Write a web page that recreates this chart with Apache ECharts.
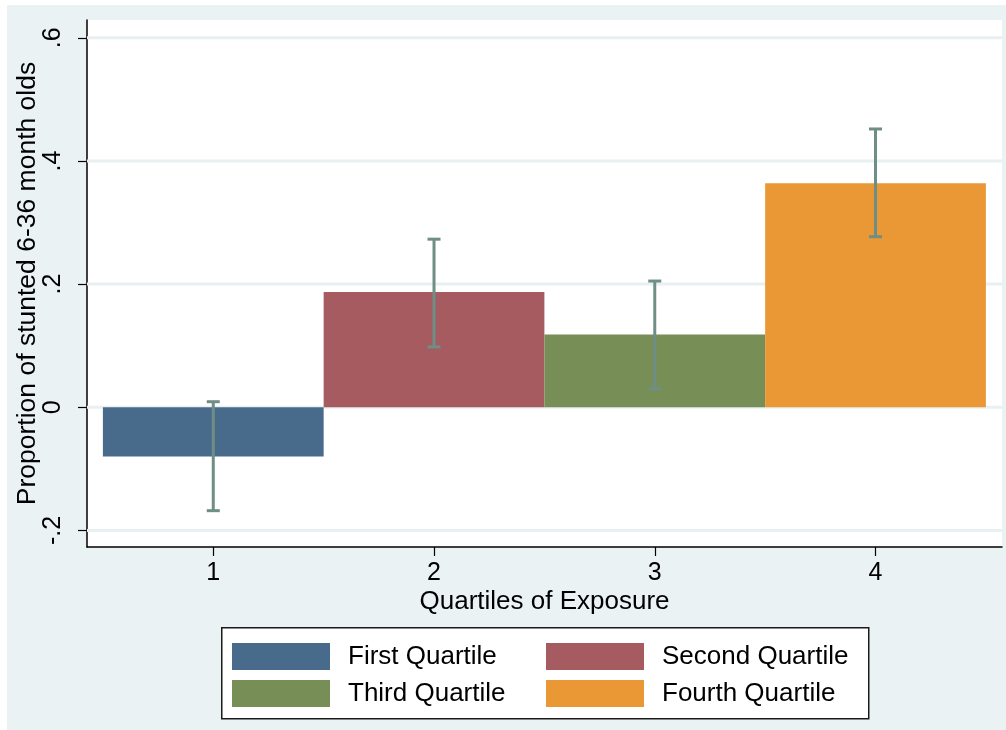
<!DOCTYPE html>
<html>
<head>
<meta charset="utf-8">
<title>Proportion of stunted 6-36 month olds by exposure quartile</title>
<script src="https://cdn.jsdelivr.net/npm/echarts@6/dist/echarts.min.js"></script>
<style>
  html, body { margin: 0; padding: 0; background: #ffffff; }
  #chart { width: 1006px; height: 730px; }
</style>
</head>
<body>
<div id="chart"></div>
<script>
// Quartile groups and their estimated proportions
const quartiles = [1, 2, 3, 4];
const quartileNames = ['First Quartile', 'Second Quartile', 'Third Quartile', 'Fourth Quartile'];
const proportions = [-0.080, 0.187, 0.118, 0.364];
const ciLower = [-0.168, 0.098, 0.030, 0.277];
const ciUpper = [0.009, 0.273, 0.205, 0.452];
const barColors = ['#486B8B', '#A55B5F', '#778F56', '#EA9835'];

// Axis ticks
const yTicks = [-0.2, 0, 0.2, 0.4, 0.6];
const xTicks = [1, 2, 3, 4];

const FONT = 'Liberation Sans, Arial, sans-serif';
const X_MIN = 0.428, X_MAX = 4.573;
const Y_MIN = -0.227, Y_MAX = 0.629;

function fmtY(v) {
  if (Math.abs(v) < 1e-9) return '0';
  const s = String(Math.round(Math.abs(v) * 10) / 10).replace(/^0/, '');
  return (v < 0 ? '-' : '') + s;
}

const chart = echarts.init(document.getElementById('chart'), null, { renderer: 'canvas' });

const barSeries = quartiles.map((q, i) => ({
  name: quartileNames[i],
  type: 'custom',
  z: 3,
  itemStyle: { color: barColors[i] },
  data: [[q, proportions[i]]],
  renderItem: function (params, api) {
    const x = api.value(0), v = api.value(1);
    const a = api.coord([x - 0.5, 0]);
    const b = api.coord([x + 0.5, v]);
    return {
      type: 'rect',
      shape: {
        x: Math.min(a[0], b[0]), y: Math.min(a[1], b[1]),
        width: Math.abs(b[0] - a[0]), height: Math.abs(b[1] - a[1])
      },
      style: { fill: barColors[i] }
    };
  }
}));

const gridLineSeries = {
  name: 'grid',
  type: 'custom',
  z: 1,
  silent: true,
  data: yTicks.map(v => [v]),
  renderItem: function (params, api) {
    const v = api.value(0);
    const a = api.coord([X_MIN, v]);
    const b = api.coord([X_MAX, v]);
    return {
      type: 'line',
      shape: { x1: a[0], y1: a[1], x2: b[0], y2: b[1] },
      style: { stroke: '#E9F0F2', lineWidth: 3 }
    };
  }
};

const errorSeries = {
  name: 'ci',
  type: 'custom',
  z: 5,
  silent: true,
  data: quartiles.map((q, i) => [q, ciLower[i], ciUpper[i]]),
  renderItem: function (params, api) {
    const x = api.value(0);
    const lo = api.coord([x, api.value(1)]);
    const hi = api.coord([x, api.value(2)]);
    const cap = 6.5;
    const st = { stroke: '#6E8E86', lineWidth: 3 };
    return {
      type: 'group',
      children: [
        { type: 'line', shape: { x1: lo[0], y1: lo[1], x2: hi[0], y2: hi[1] }, style: st },
        { type: 'line', shape: { x1: hi[0] - cap, y1: hi[1], x2: hi[0] + cap, y2: hi[1] }, style: st },
        { type: 'line', shape: { x1: lo[0] - cap, y1: lo[1], x2: lo[0] + cap, y2: lo[1] }, style: st }
      ]
    };
  }
};

const legendCommon = {
  orient: 'vertical',
  icon: 'rect',
  itemWidth: 98,
  itemHeight: 27,
  itemGap: 10,
  padding: 0,
  selectedMode: false,
  textStyle: { fontFamily: FONT, fontSize: 26, color: '#000', padding: [5, 0, 0, 13] }
};

chart.setOption({
  animation: false,
  backgroundColor: '#EAF2F3',
  textStyle: { fontFamily: FONT },
  graphic: [
    { type: 'rect', left: 0, top: 0, shape: { width: 1006, height: 5 }, style: { fill: '#ffffff' }, z: -10 },
    { type: 'rect', left: 0, top: 0, shape: { width: 7, height: 730 }, style: { fill: '#ffffff' }, z: -10 },
    { type: 'rect', left: 221, top: 627, shape: { width: 647, height: 91 },
      style: { fill: '#ffffff', stroke: '#1a1a1a', lineWidth: 1.5 }, z: -5 }
  ],
  grid: {
    left: 87, right: 4, top: 20, bottom: 183,
    outerBoundsMode: 'none',
    containLabel: false,
    show: true, backgroundColor: '#ffffff', borderWidth: 0
  },
  xAxis: {
    type: 'value',
    min: X_MIN, max: X_MAX,
    name: 'Quartiles of Exposure',
    nameLocation: 'middle',
    nameGap: 42,
    nameMoveOverlap: false,
    nameTextStyle: { fontFamily: FONT, fontSize: 26, color: '#000' },
    axisLine: { show: true, onZero: false, lineStyle: { color: '#000', width: 1.5 } },
    axisTick: { show: true, length: 9, customValues: xTicks, lineStyle: { color: '#000', width: 1.2 } },
    axisLabel: { customValues: xTicks, margin: 14, fontFamily: FONT, fontSize: 25, color: '#000' },
    splitLine: { show: false }
  },
  yAxis: {
    type: 'value',
    min: Y_MIN, max: Y_MAX,
    name: 'Proportion of stunted 6-36 month olds',
    nameLocation: 'middle',
    nameGap: 46,
    nameMoveOverlap: false,
    nameTextStyle: { fontFamily: FONT, fontSize: 26.5, color: '#000' },
    axisLine: { show: true, onZero: false, lineStyle: { color: '#000', width: 1.5 } },
    axisTick: { show: true, length: 9, customValues: yTicks, lineStyle: { color: '#000', width: 1.2 } },
    axisLabel: { customValues: yTicks, rotate: 90, margin: 21, fontFamily: FONT, fontSize: 25, color: '#000', formatter: fmtY },
    splitLine: { show: false }
  },
  legend: [
    Object.assign({ left: 232, top: 643, data: [quartileNames[0], quartileNames[2]] }, legendCommon),
    Object.assign({ left: 546, top: 643, data: [quartileNames[1], quartileNames[3]] }, legendCommon)
  ],
  series: [gridLineSeries].concat(barSeries, [errorSeries])
});
</script>
</body>
</html>
